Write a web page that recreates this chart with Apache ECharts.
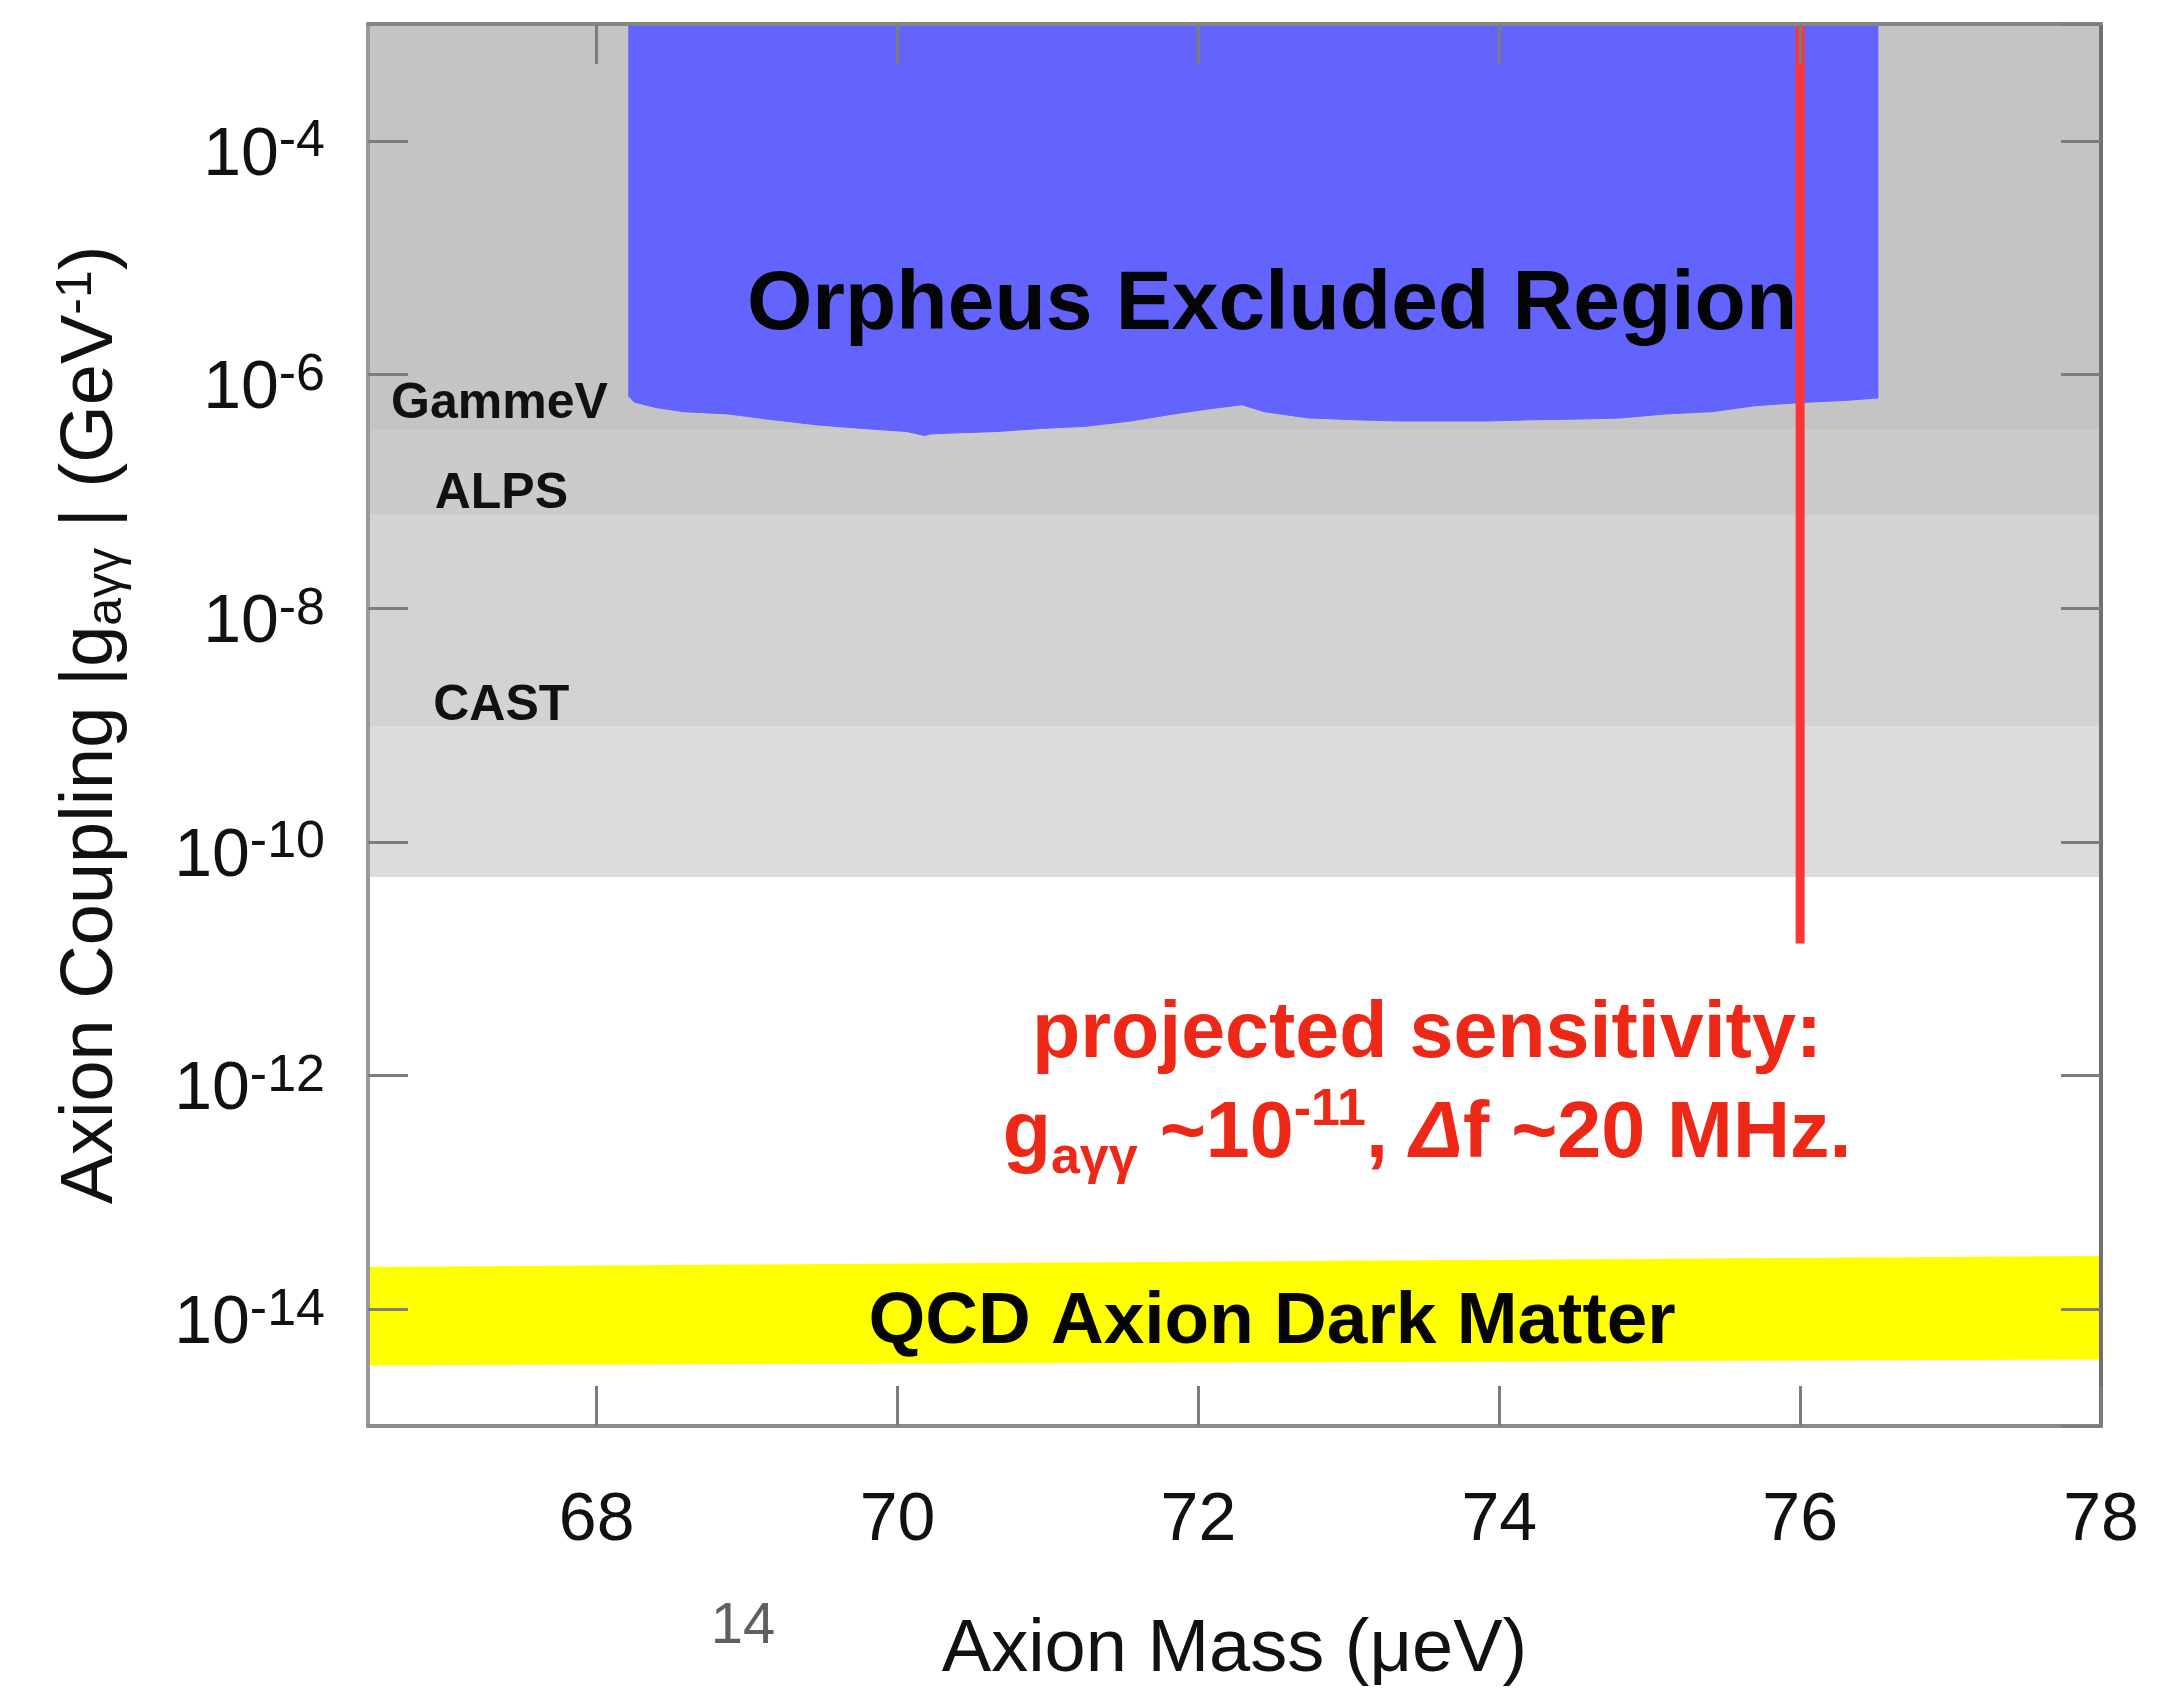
<!DOCTYPE html>
<html>
<head>
<meta charset="utf-8">
<script src="https://cdn.jsdelivr.net/npm/echarts@6/dist/echarts.min.js"></script>
<style>
html,body{margin:0;padding:0;background:#ffffff;}
#chart{width:2177px;height:1700px;}
</style>
</head>
<body>
<div id="chart"></div>
<script>
// ---------------- data ----------------
const massTicks = [68, 70, 72, 74, 76, 78];
const massTopTicks = [68, 70, 72, 74, 76];
const massRange = [66.48, 78];
const couplingRange = [1e-15, 1e-3];

// previously excluded regions (limit -> top of plot), largest first
const bandNames = ['CAST (low)', 'CAST', 'ALPS', 'GammeV'];
const bandLimits = [5.0e-11, 9.8e-10, 6.3e-8, 3.4e-7];

// Orpheus excluded region: lower boundary
const orpheusMass = [68.21, 68.25, 68.40, 68.58, 68.87, 69.17, 69.47, 69.77, 70.06, 70.18, 70.22, 70.36, 70.66,
  70.95, 71.25, 71.55, 71.84, 72.08, 72.29, 72.44, 72.73, 73.03, 73.33, 73.62, 73.92, 74.22,
  74.52, 74.81, 75.11, 75.41, 75.70, 76.00, 76.30, 76.52];
const orpheusLimit = [6.6e-7, 5.8e-7, 5.2e-7, 4.8e-7, 4.6e-7, 4.1e-7, 3.7e-7, 3.45e-7, 3.25e-7, 3.0e-7, 3.1e-7, 3.15e-7, 3.25e-7,
  3.45e-7, 3.6e-7, 4.0e-7, 4.6e-7, 5.1e-7, 5.5e-7, 4.8e-7, 4.25e-7, 4.1e-7, 4.0e-7, 4.0e-7, 4.0e-7, 4.1e-7,
  4.15e-7, 4.25e-7, 4.6e-7, 4.8e-7, 5.4e-7, 5.75e-7, 6.0e-7, 6.3e-7];

// projected sensitivity line
const sensitivityMass = [76, 76];
const sensitivityCoupling = [1e-3, 1.35e-11];

// QCD axion dark matter band
const qcdMass = [66.48, 78];
const qcdLower = [3.3e-15, 3.7e-15];
const qcdUpper = [2.3e-14, 2.85e-14];

// annotations
const regionLabelText = ['GammeV', 'ALPS', 'CAST'];
const regionLabelMass = [66.63, 66.92, 66.91];
const regionLabelCoupling = [5.6e-7, 9.5e-8, 1.44e-9];

const orpheusLabel = ['Orpheus Excluded Region', 72.49, 3.9e-6];
const qcdLabel = ['QCD Axion Dark Matter', 72.49, 7.6e-15];
const sensLabel = ['projected sensitivity', 73.52, 8.3e-13];

// ---------------- chart ----------------
const F = '"Liberation Sans", Arial, Helvetica, sans-serif';
const RED = '#ee2816';
const BLUE = '#6363fe';
const bandColors = ['#dcdcdc', '#d3d3d3', '#cbcbcb', '#c4c4c4'];

const chart = echarts.init(document.getElementById('chart'), null, {renderer: 'canvas'});

const tickRich = {
  n: {fontSize: 68, lineHeight: 80, fontFamily: F, color: '#111'},
  s: {fontSize: 52, lineHeight: 42, verticalAlign: 'top', fontFamily: F, color: '#111'}
};

const hiddenSym = {color: 'rgba(0,0,0,0)', opacity: 1};

const series = [];
bandLimits.forEach((lim, i) => {
  series.push({
    name: bandNames[i], type: 'line', silent: true, symbol: 'none', showSymbol: false,
    data: [[massRange[0], lim], [massRange[1], lim]],
    lineStyle: {width: 0, opacity: 0},
    areaStyle: {origin: 'end', color: bandColors[i], opacity: 1},
    z: 1
  });
});

series.push({
  name: 'Orpheus', type: 'line', silent: true, symbol: 'none', showSymbol: false,
  data: orpheusMass.map((m, i) => [m, orpheusLimit[i]]),
  lineStyle: {width: 1, color: BLUE},
  areaStyle: {origin: 'end', color: BLUE, opacity: 1},
  z: 2
});

series.push({
  name: 'QCD', type: 'custom', silent: true,
  data: qcdMass.map((m, i) => [m, qcdLower[i], qcdUpper[i]]),
  encode: {x: 0, y: [1, 2]},
  renderItem: function (params, api) {
    if (params.dataIndex !== 0) return null;
    const pts = [
      api.coord([qcdMass[0], qcdLower[0]]),
      api.coord([qcdMass[1], qcdLower[1]]),
      api.coord([qcdMass[1], qcdUpper[1]]),
      api.coord([qcdMass[0], qcdUpper[0]])
    ];
    return {type: 'polygon', shape: {points: pts}, style: {fill: '#ffff00'}};
  },
  z: 2
});

series.push({
  name: 'sensitivity', type: 'line', silent: true, symbol: 'none', showSymbol: false,
  data: sensitivityMass.map((m, i) => [m, sensitivityCoupling[i]]),
  lineStyle: {width: 9, color: '#ff3434'},
  z: 3
});

// region labels (left aligned)
series.push({
  type: 'scatter', silent: true, symbolSize: 1, itemStyle: hiddenSym,
  data: regionLabelText.map((t, i) => ({name: t, value: [regionLabelMass[i], regionLabelCoupling[i]]})),
  label: {show: true, position: 'right', distance: 0, formatter: p => p.name, opacity: 1,
    fontFamily: F, fontWeight: 'bold', fontSize: 50, color: '#111'},
  z: 6
});

series.push({
  type: 'scatter', silent: true, symbolSize: 1, itemStyle: hiddenSym,
  data: [{name: orpheusLabel[0], value: [orpheusLabel[1], orpheusLabel[2]]}],
  label: {show: true, position: 'inside', formatter: p => p.name, opacity: 1,
    fontFamily: F, fontWeight: 'bold', fontSize: 84, color: '#050505'},
  z: 6
});

series.push({
  type: 'scatter', silent: true, symbolSize: 1, itemStyle: hiddenSym,
  data: [{name: qcdLabel[0], value: [qcdLabel[1], qcdLabel[2]]}],
  label: {show: true, position: 'inside', formatter: p => p.name, opacity: 1,
    fontFamily: F, fontWeight: 'bold', fontSize: 73, color: '#050505'},
  z: 6
});

series.push({
  type: 'scatter', silent: true, symbolSize: 1, itemStyle: hiddenSym,
  data: [{name: sensLabel[0], value: [sensLabel[1], sensLabel[2]]}],
  label: {show: true, position: 'inside', align: 'center', opacity: 1,
    formatter: () => '{r|projected sensitivity:}\n{r|g}{sub|aγγ}{r| ~10}{sup|-11}{r|, }{it|Δ}{r|f ~20 MHz.}',
    rich: {
      r: {fontFamily: F, fontWeight: 'bold', fontSize: 79, lineHeight: 100, color: RED, align: 'center'},
      sub: {fontFamily: F, fontWeight: 'bold', fontSize: 52, lineHeight: 76, verticalAlign: 'bottom', color: RED, align: 'center'},
      sup: {fontFamily: F, fontWeight: 'bold', fontSize: 52, lineHeight: 82, verticalAlign: 'top', color: RED, align: 'center'},
      it: {fontFamily: F, fontWeight: 'bold', fontStyle: 'italic', fontSize: 79, lineHeight: 100, color: RED, align: 'center'}
    }
  },
  z: 6
});

const option = {
  animation: false,
  backgroundColor: '#ffffff',
  grid: {left: 368, right: 76, top: 24, bottom: 274, containLabel: false, outerBoundsMode: 'none'},
  xAxis: [{
    type: 'value', position: 'bottom', min: massRange[0], max: massRange[1], z: 10,
    axisLine: {show: true, onZero: false, lineStyle: {color: '#8a8a8a', width: 4}},
    axisTick: {show: true, inside: true, length: 40, customValues: massTicks, lineStyle: {color: '#7d7d7d', width: 3}},
    axisLabel: {show: true, customValues: massTicks, margin: 61, fontFamily: F, fontSize: 68, lineHeight: 68, color: '#111'},
    splitLine: {show: false},
    name: 'Axion Mass (μeV)', nameLocation: 'middle', nameGap: 188,
    nameTextStyle: {fontFamily: F, fontSize: 74, lineHeight: 74, color: '#111'}
  }, {
    type: 'value', position: 'top', min: massRange[0], max: massRange[1], z: 10,
    axisLine: {show: true, onZero: false, lineStyle: {color: '#858585', width: 4}},
    axisTick: {show: true, inside: true, length: 40, customValues: massTopTicks, lineStyle: {color: '#7d7d7d', width: 3}},
    axisLabel: {show: false},
    splitLine: {show: false}
  }],
  yAxis: [{
    type: 'log', logBase: 100, position: 'left', min: couplingRange[0], max: couplingRange[1], z: 10,
    axisLine: {show: true, onZero: false, lineStyle: {color: '#9a9a9a', width: 4}},
    axisTick: {show: true, inside: true, length: 40, lineStyle: {color: '#7d7d7d', width: 3}},
    axisLabel: {
      show: true, margin: 43, showMinLabel: false, showMaxLabel: false, padding: [30, 0, 0, 0],
      formatter: v => '{n|10}{s|' + Math.round(Math.log10(v)) + '}',
      rich: tickRich
    },
    splitLine: {show: false},
    minorTick: {show: false},
    name: '{t|Axion Coupling |g}{sub|aγγ}{t| | (GeV}{sup|-1}{t|)}',
    nameLocation: 'middle', nameGap: 236,
    nameTextStyle: {
      rich: {
        t: {fontFamily: F, fontSize: 74, lineHeight: 80, color: '#111'},
        sub: {fontFamily: F, fontSize: 50, lineHeight: 60, verticalAlign: 'bottom', color: '#111'},
        sup: {fontFamily: F, fontSize: 50, lineHeight: 48, verticalAlign: 'top', color: '#111'}
      }
    }
  }, {
    type: 'log', logBase: 100, position: 'right', min: couplingRange[0], max: couplingRange[1], z: 10,
    axisLine: {show: true, onZero: false, lineStyle: {color: '#707070', width: 4}},
    axisTick: {show: true, inside: true, length: 40, lineStyle: {color: '#7d7d7d', width: 3}},
    axisLabel: {show: false},
    splitLine: {show: false}
  }],
  graphic: [{
    type: 'text', x: 743, y: 1627, silent: true,
    style: {text: '14', fill: '#5f5f5f', font: '58px "Liberation Sans", Arial, sans-serif',
      align: 'center', verticalAlign: 'middle', textAlign: 'center', textVerticalAlign: 'middle'}
  }],
  series: series
};

chart.setOption(option);
</script>
</body>
</html>
